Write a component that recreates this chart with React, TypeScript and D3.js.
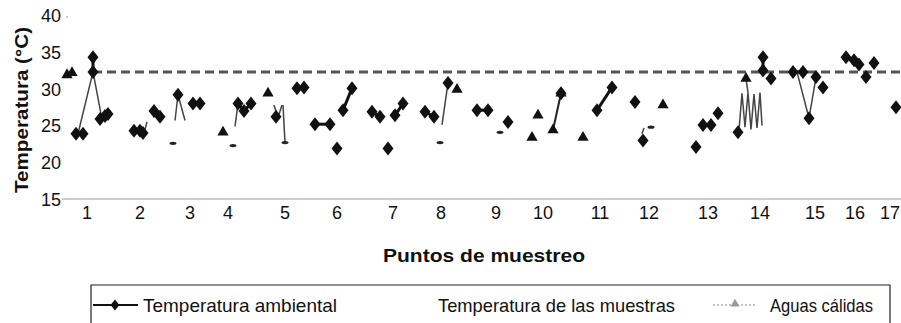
import React from "react";
import * as d3 from "d3";

type Pt = [number, number];

// x: posición a lo largo del eje de muestreo, y: temperatura en °C
const ambiente: Pt[][] = [
  [[1.4, 24.0], [2.1, 24.0]],
  [[3.1, 34.4], [3.1, 32.4]],
  [[3.8, 26.0], [4.3, 26.4], [4.6, 26.7]],
  [[7.2, 24.4], [7.8, 24.4], [8.1, 24.1]],
  [[9.2, 27.1], [9.8, 26.3]],
  [[11.6, 29.3]],
  [[13.1, 28.1], [13.8, 28.1]],
  [[17.6, 28.1], [18.2, 27.1], [18.9, 28.1]],
  [[21.4, 26.3]],
  [[23.5, 30.2], [24.2, 30.3]],
  [[25.3, 25.3], [26.8, 25.3]],
  [[27.5, 22.0]],
  [[28.1, 27.2], [29.0, 30.2]],
  [[31.0, 27.0], [31.8, 26.3]],
  [[32.6, 22.0]],
  [[33.3, 26.5], [34.1, 28.1]],
  [[36.3, 27.0], [37.2, 26.3]],
  [[38.6, 30.9]],
  [[41.5, 27.2], [42.6, 27.2]],
  [[44.6, 25.6]],
  [[49.9, 29.5]],
  [[53.5, 27.2], [55.0, 30.3]],
  [[57.3, 28.3]],
  [[58.1, 23.1]],
  [[63.4, 22.2]],
  [[64.1, 25.2], [64.9, 25.2]],
  [[65.6, 26.8]],
  [[67.6, 24.2]],
  [[70.1, 34.4], [70.1, 32.6]],
  [[70.9, 31.5]],
  [[73.1, 32.4], [74.1, 32.4]],
  [[74.7, 26.1]],
  [[75.4, 31.7]],
  [[76.1, 30.3]],
  [[78.4, 34.4], [79.2, 34.0], [79.7, 33.4]],
  [[80.4, 31.7]],
  [[81.2, 33.6]],
  [[83.4, 27.6]],
];

const muestras: Pt[][] = [
  [[0.5, 32.0], [1.0, 32.3]],
  [[16.1, 24.2]],
  [[20.6, 29.5]],
  [[39.5, 30.0]],
  [[47.0, 23.5]],
  [[47.6, 26.5]],
  [[49.1, 24.5], [49.9, 29.5]],
  [[52.1, 23.5]],
  [[60.1, 27.9]],
  [[68.4, 31.5]],
];

const trazos: Pt[][] = [
  [[1.6, 24.0], [3.1, 32.4], [4.0, 26.0]],
  [[8.3, 24.6], [8.5, 25.6]],
  [[11.3, 25.8], [11.6, 29.3], [12.3, 25.8]],
  [[17.3, 25.0], [17.6, 28.1]],
  [[21.2, 27.9], [21.6, 26.2], [22.0, 27.9]],
  [[22.1, 27.9], [22.3, 22.8]],
  [[38.0, 25.2], [38.6, 30.9]],
  [[58.0, 24.0], [58.2, 24.8]],
  [[67.7, 24.5], [68.0, 29.5], [68.3, 24.9], [68.6, 29.6], [68.9, 24.6], [69.2, 29.4], [69.5, 24.8], [69.8, 29.6], [70.0, 25.1]],
  [[68.4, 31.5], [68.6, 29.6]],
  [[73.5, 32.4], [74.7, 26.1], [75.4, 31.7]],
];

const marcas: Pt[] = [
  [11.1, 22.7], [17.1, 22.4], [22.3, 22.8], [37.8, 22.8], [43.8, 24.2], [58.9, 24.9],
];

const aguasCalidas = 32.4;
const aguasDesde = 3.1;

const yTicks = [15, 20, 25, 30, 35, 40];
const xTickPos = [2.5, 7.8, 12.8, 16.6, 22.3, 27.5, 33.1, 37.9, 43.4, 48.1, 53.8, 58.7, 64.6, 69.8, 75.3, 79.3, 82.8];
const xTickLabels = ["1", "2", "3", "4", "5", "6", "7", "8", "9", "10", "11", "12", "13", "14", "15", "16", "17"];

const legendItems = ["Temperatura ambiental", "Temperatura de las muestras", "Aguas cálidas"];

const W = 901;
const H = 323;
const font = "'Liberation Sans', Arial, sans-serif";
const diamond = "M0,-7L5.5,0L0,7L-5.5,0Z";

export default function App() {
  const x = d3.scaleLinear().domain([0, 84]).range([62, 902]);
  const y = d3.scaleLinear().domain([15, 40]).range([200, 16]);
  const line = d3.line<Pt>().x(d => x(d[0])).y(d => y(d[1]));
  const tri = d3.symbol().type(d3.symbolTriangle).size(55)()!;

  return (
    <svg width={W} height={H} style={{ position: "absolute", left: 0, top: 0, background: "#fff" }} fontFamily={font}>
      <defs>
        <clipPath id="plot">
          <rect x={60} y={0} width={W - 60} height={205} />
        </clipPath>
      </defs>

      {/* eje y */}
      {yTicks.map(t => (
        <text key={t} x={61} y={y(t) + 6} textAnchor="end" fontSize={18} fill="#111">{t}</text>
      ))}
      <circle cx={67} cy={y(40) + 1} r={0.8} fill="#888" />
      <text transform="translate(28,110) rotate(-90)" textAnchor="middle" fontSize={19} fontWeight="bold"
        fill="#111" textLength={166} lengthAdjust="spacingAndGlyphs">Temperatura (°C)</text>

      {/* eje x */}
      <line x1={62} x2={W} y1={y(15) - 1} y2={y(15) - 1} stroke="#999" strokeWidth={1} />
      {xTickPos.map((p, i) => (
        <text key={i} x={x(p)} y={219} textAnchor="middle" fontSize={18} fill="#111">{xTickLabels[i]}</text>
      ))}
      <text x={383} y={262} fontSize={19} fontWeight="bold" fill="#111"
        textLength={202} lengthAdjust="spacingAndGlyphs">Puntos de muestreo</text>

      <g clipPath="url(#plot)">
        {/* aguas cálidas */}
        <line x1={x(aguasDesde)} x2={W} y1={y(aguasCalidas)} y2={y(aguasCalidas)}
          stroke="#555" strokeWidth={3} strokeDasharray="9 5" />

        {/* trazos finos de las muestras */}
        {trazos.map((s, i) => (
          <path key={i} d={line(s)!} fill="none" stroke="#444" strokeWidth={1.5} />
        ))}

        {/* temperatura de las muestras */}
        {muestras.map((s, i) => (
          <g key={i}>
            {s.length > 1 && <path d={line(s)!} fill="none" stroke="#222" strokeWidth={2} />}
            {s.map((p, j) => (
              <path key={j} d={tri} transform={`translate(${x(p[0])},${y(p[1])})`} fill="#111" />
            ))}
          </g>
        ))}

        {/* temperatura ambiental */}
        {ambiente.map((s, i) => (
          <g key={i}>
            {s.length > 1 && <path d={line(s)!} fill="none" stroke="#111" strokeWidth={3} />}
            {s.map((p, j) => (
              <path key={j} d={diamond} transform={`translate(${x(p[0])},${y(p[1])})`} fill="#111" />
            ))}
          </g>
        ))}

        {marcas.map((p, i) => (
          <ellipse key={i} cx={x(p[0])} cy={y(p[1])} rx={3.5} ry={1.6} fill="#222" />
        ))}
      </g>

      {/* leyenda */}
      <path d={`M91,${H}V285H890V${H}`} fill="none" stroke="#222" strokeWidth={1.2} />
      <line x1={93} x2={138} y1={305} y2={305} stroke="#111" strokeWidth={2} />
      <path d={diamond} transform="translate(115,305) scale(0.8)" fill="#111" />
      <text x={143} y={312} fontSize={19} fill="#111" textLength={194} lengthAdjust="spacingAndGlyphs">{legendItems[0]}</text>
      <text x={438} y={312} fontSize={19} fill="#111" textLength={237} lengthAdjust="spacingAndGlyphs">{legendItems[1]}</text>
      <line x1={713} x2={755} y1={305} y2={305} stroke="#888" strokeWidth={1} strokeDasharray="2 2" />
      <path d={tri} transform="translate(735,304) scale(0.8)" fill="#999" />
      <text x={770} y={312} fontSize={19} fill="#111" textLength={103} lengthAdjust="spacingAndGlyphs">{legendItems[2]}</text>
    </svg>
  );
}
